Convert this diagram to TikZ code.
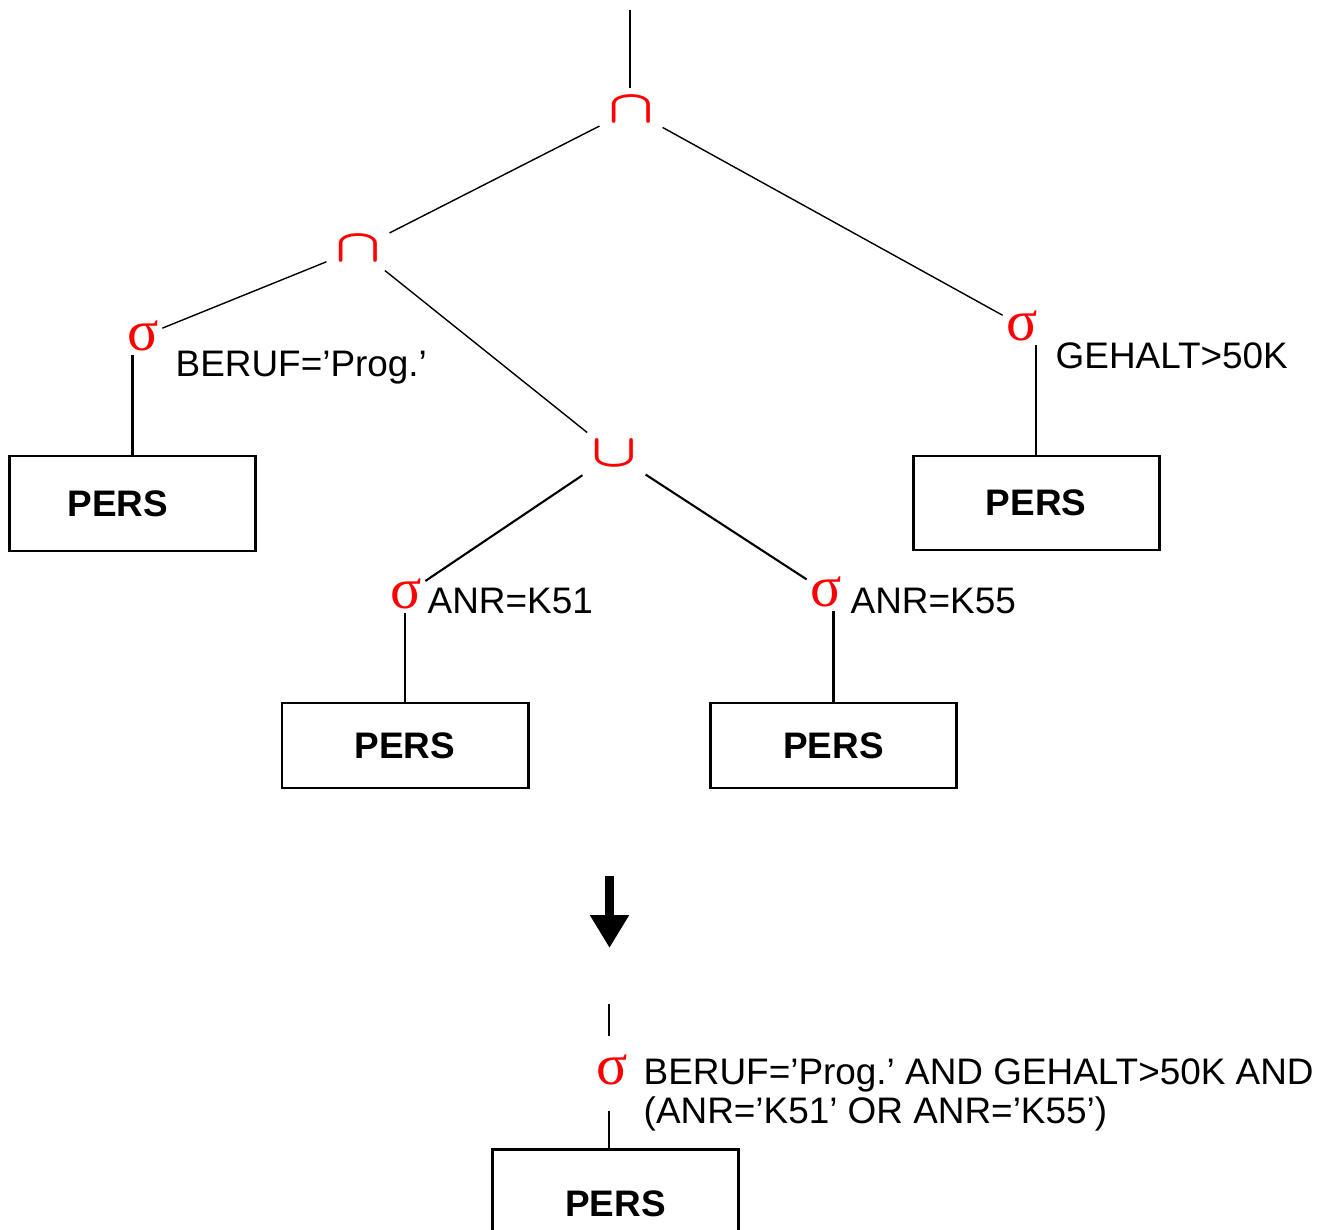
\documentclass[tikz,border=0pt]{standalone}
\usepackage{fontspec}
\setmainfont{Liberation Sans}
\newfontfamily\sigmafont{Liberation Serif}
\usepackage{graphicx}
\usetikzlibrary{arrows.meta,calc,positioning}
\frenchspacing

\tikzset{
  op/.style={text=red,inner sep=0.08cm},
  sel/.style={text=red,font=\sigmafont\fontsize{16.5}{16.5}\selectfont,inner sep=0.03cm},
  cond/.style={inner sep=0pt,anchor=base west},
  rel/.style={draw,line width=0.85pt,minimum width=2.46cm,font=\bfseries\fontsize{10.5}{11.2}\selectfont},
  link/.style={line width=0.4pt},
  stem/.style={line width=0.8pt},
}
\newcommand{\opcap}{\scalebox{1.55}[1.2]{\boldmath$\cap$}}
\newcommand{\opcup}{\scalebox{1.55}[1.2]{\boldmath$\cup$}}

\begin{document}
\begin{tikzpicture}[>=Latex,font=\fontsize{10.5}{11.2}\selectfont]
\useasboundingbox (0,0) rectangle (13.37,12.29);
\clip (0,0) rectangle (13.37,12.29);
% operator tree
\coordinate (top1) at (6.30,12.19);
\node[op] (cap1) at (6.31,11.19) {\opcap};
\node[op] (cap2) at (3.58,9.80) {\opcap};
\node[op] (cup) at (6.14,7.75) {\opcup};
\node[sel] (sig1) at (1.43,8.93) {σ};
\node[cond] (lab1) at (1.75,8.52) {BERUF='Prog.'};
\node[sel] (sig4) at (10.22,9.03) {σ};
\node[cond] (lab4) at (10.55,8.60) {GEHALT>50K};
\node[sel] (sig2) at (4.06,6.35) {σ};
\node[cond] (lab2) at (4.27,6.16) {ANR=K51};
\node[sel] (sig3) at (8.26,6.37) {σ};
\node[cond] (lab3) at (8.50,6.16) {ANR=K55};
\node[rel,minimum height=0.95cm] (box1) at (1.325,7.255) {PERS\hspace*{0.29cm}};
\node[rel,minimum height=0.94cm] (box4) at (10.36,7.26) {PERS};
\node[rel,minimum height=0.85cm] (box2) at (4.05,4.835) {PERS};
\node[rel,minimum height=0.85cm] (box3) at (8.335,4.835) {PERS};
\draw[link,line width=0.6pt] (top1) -- (top1 |- cap1.north);
\draw[link] (cap1) -- (cap2);
\draw[link] (cap1) -- (sig4);
\draw[link] (cap2) -- (sig1);
\draw[link] (cap2) -- (cup);
\draw[link,line width=0.6pt] (cup) -- (sig2);
\draw[link,line width=0.6pt] (cup) -- (sig3);
\draw[stem] (box1.north) -- (box1.north |- sig1.south);
\draw[stem] (box4.north) -- (box4.north |- sig4.south);
\draw[stem] (box2.north) -- (box2.north |- sig2.south);
\draw[stem] (box3.north) -- (box3.north |- sig3.south);
% rewrite arrow
\coordinate (arrS) at (6.095,3.53);
\coordinate (arrE) at (6.095,2.81);
\draw[line width=2.6pt,-{Triangle[length=0.33cm,width=0.37cm]}] (arrS) -- (arrE);
% merged selection
\coordinate (top5) at (6.09,2.25);
\node[sel] (sig5) at (6.12,1.59) {σ};
\node[cond,anchor=north west,align=left] (lab5) at (6.43,1.71) {BERUF='Prog.' AND GEHALT>50K AND\\(ANR='K51' OR ANR='K55')};
\node[rel,minimum height=1.1cm] (box5) at (6.155,0.25) {PERS};
\draw[stem,shorten >=0.15cm] (top5) -- (top5 |- sig5.north);
\draw[stem,shorten <=0.22cm] (top5 |- sig5.south) -- (top5 |- box5.north);
\end{tikzpicture}
\end{document}
